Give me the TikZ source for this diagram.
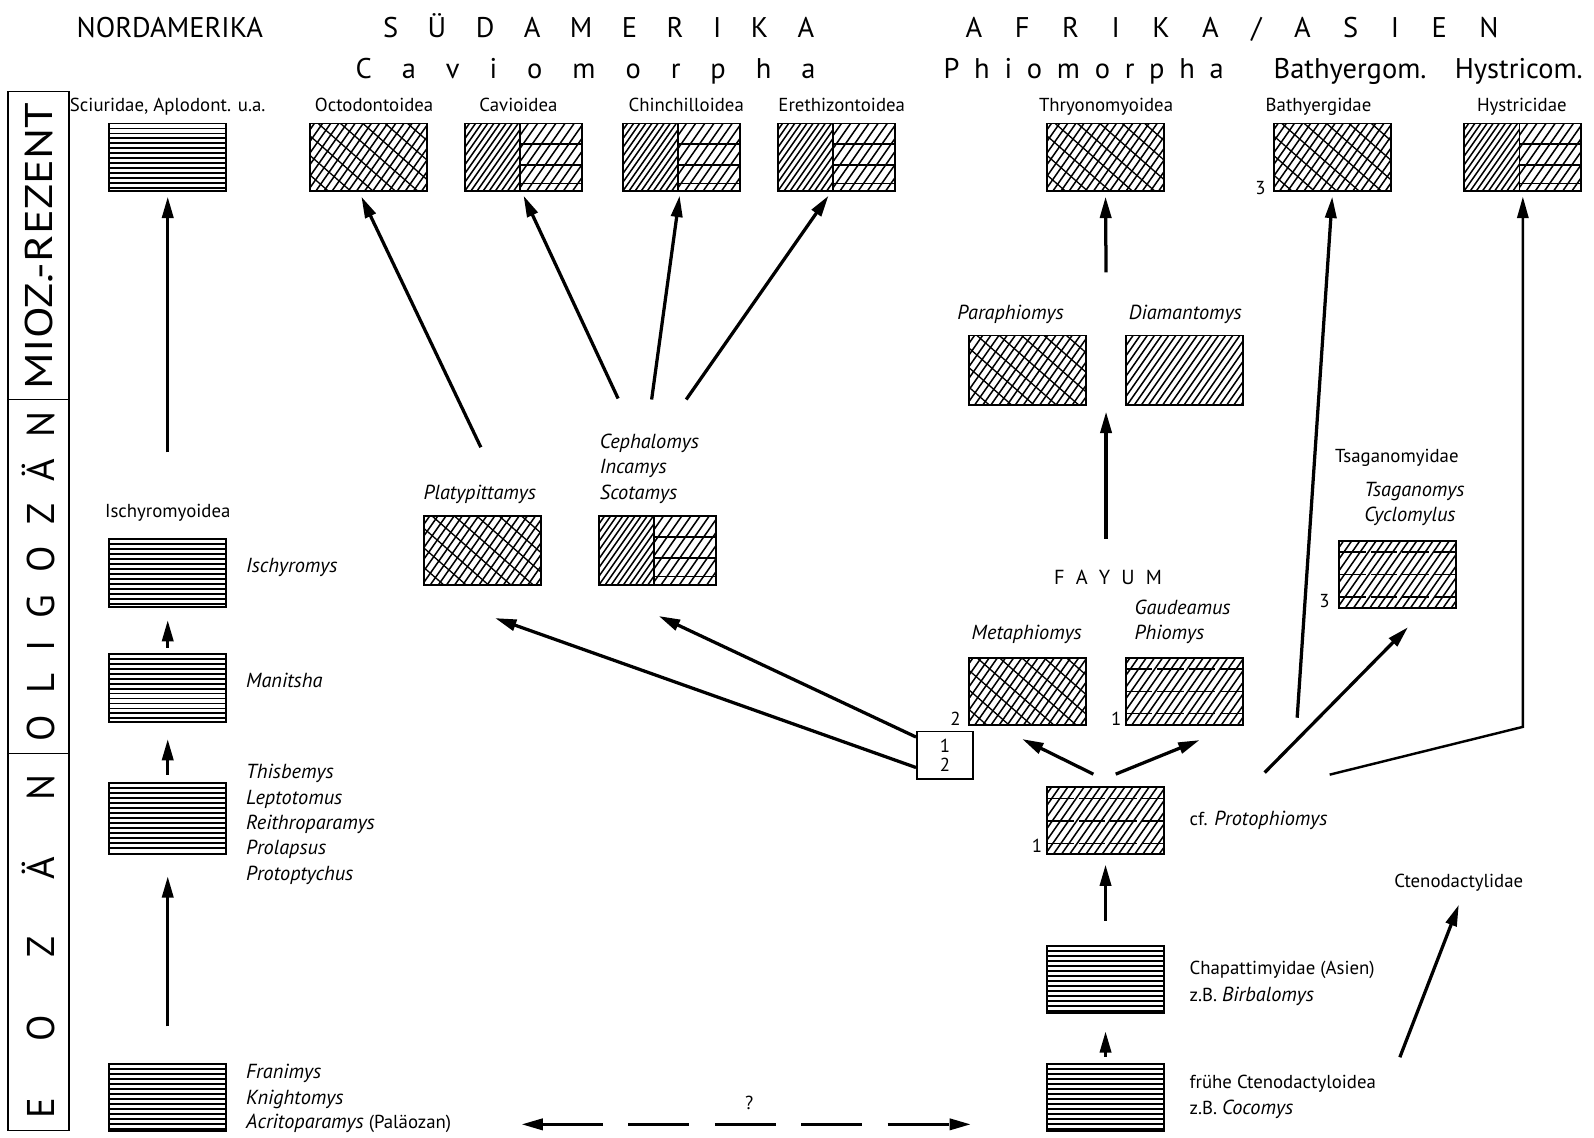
\documentclass[tikz,border=0pt]{standalone}
\usepackage{fontspec}
\setmainfont{PT Sans}
\usetikzlibrary{arrows.meta,calc}
\newcommand\lblf{\fontsize{18.5}{22}\selectfont}
\newcommand\ilblf{\fontsize{20}{22}\selectfont\itshape}
\newcommand\hdrf{\fontsize{28}{32}\selectfont}
\newcommand\barf{\fontsize{38}{40}\selectfont}
\tikzset{
  hatchln/.style={line width=1.5pt},
  boxbase/.style={draw, line width=1.9pt, minimum width=115pt, minimum height=66pt, inner sep=0pt, outer sep=0pt},
  phl/.style={boxbase, path picture={
    \foreach \k in {1,...,13} \draw[line width=1.9pt] ([yshift=-\k*4.9pt]path picture bounding box.north west) -- ++(130pt,0pt);
  }},
  pdiag/.style={boxbase, path picture={
    \foreach \d in {-90,-83,...,130} \draw[hatchln] ([xshift=\d pt]path picture bounding box.south west) -- ++(56pt,80pt);
  }},
  pcross/.style={boxbase, path picture={
    \foreach \d in {-90,-82,...,130} \draw[hatchln] ([xshift=\d pt]path picture bounding box.south west) -- ++(56pt,80pt);
    \foreach \d in {-80,-58,...,160} \draw[line width=1.3pt] ([xshift=\d pt]path picture bounding box.north west) -- ++(80pt,-70pt);
  }},
  pbrick/.style={boxbase, path picture={
    \foreach \d in {-90,-82,...,130} \draw[hatchln] ([xshift=\d pt]path picture bounding box.south west) -- ++(56pt,80pt);
    \foreach \h in {11,33,55} \draw[hatchln, dash pattern=on 26pt off 5pt] ([yshift=-\h pt]path picture bounding box.north west) -- ++(130pt,0pt);
  }},
  phalf/.style={boxbase, path picture={
    \begin{scope}
      \clip (path picture bounding box.south west) rectangle ([xshift=54pt]path picture bounding box.north west);
      \foreach \d in {-90,-84,...,60} \draw[hatchln] ([xshift=\d pt]path picture bounding box.south west) -- ++(56pt,80pt);
    \end{scope}
    \begin{scope}
      \clip ([xshift=54pt]path picture bounding box.south west) rectangle (path picture bounding box.north east);
      \foreach \d in {-20,-11,...,130} \draw[hatchln] ([xshift=\d pt]path picture bounding box.south west) -- ++(56pt,80pt);
      \foreach \h in {20,41,59} \draw[hatchln] ([yshift=-\h pt]path picture bounding box.north west) -- ++(130pt,0pt);
    \end{scope}
    \draw[line width=1.5pt] ([xshift=54pt]path picture bounding box.north west) -- ([xshift=54pt]path picture bounding box.south west);
  }},
  conn/.style={line width=3.2pt, -{Triangle[length=21pt,width=11pt]}},
  thinconn/.style={line width=2.4pt, -{Triangle[length=21pt,width=11pt]}},
  lbl/.style={font=\lblf, inner sep=0pt},
  ilbl/.style={font=\ilblf, inner sep=0pt},
  hdr/.style={font=\hdrf, inner sep=0pt},
  barlbl/.style={font=\barf, inner sep=0pt, rotate=90},
}
\begin{document}
\begin{tikzpicture}[x=1pt,y=-1pt]
\useasboundingbox (0,0) rectangle (1568,1119);

% time bar
\draw[line width=1.8pt] (8,90) rectangle (68,1112);
\draw[line width=1.4pt] (8,393) -- (68,393);
\draw[line width=1.4pt] (8,741) -- (68,741);
\node[barlbl] (tMio) at (38,242) {\scalebox{1.2}[1]{MIOZ.-REZENT}};
\node[barlbl] (tOli) at (38,567) {{\spaceskip=21.5pt O L I G O Z Ä N}};
\node[barlbl] (tEoz) at (38,931) {{\spaceskip=56pt E O Z Ä N}};

% headers
\node[hdr, anchor=base] (hNord) at (167,37) {NORDAMERIKA};
\node[hdr, anchor=base] (hSued) at (589,37) {{\spaceskip=29pt S Ü D A M E R I K A}};
\node[hdr, anchor=base] (hAfr) at (1212,37) {{\spaceskip=32pt A F R I K A / A S I E N}};
\node[hdr, anchor=base] (hCav) at (576,77) {{\spaceskip=29.5pt C a v i o m o r p h a}};
\node[hdr, anchor=base] (hPhi) at (1066,77) {{\spaceskip=14.5pt P h i o m o r p h a}};
\node[hdr, anchor=base] (hBat) at (1328,77) {Bathyergom.};
\node[hdr, anchor=base] (hHys) at (1494,77) {Hystricom.};

% top row
\node[lbl, anchor=base] (lSci) at (165,110) {Sciuridae, Aplodont. u.a.};
\node[lbl, anchor=base] (lOct) at (368,110) {Octodontoidea};
\node[lbl, anchor=base] (lCav) at (510,110) {Cavioidea};
\node[lbl, anchor=base] (lChi) at (675,110) {Chinchilloidea};
\node[lbl, anchor=base] (lEre) at (828,110) {Erethizontoidea};
\node[lbl, anchor=base] (lThr) at (1088,110) {Thryonomyoidea};
\node[lbl, anchor=base] (lBat) at (1297,110) {Bathyergidae};
\node[lbl, anchor=base] (lHys) at (1497,110) {Hystricidae};

\node[phl] (sci) at (165,154.5) {};
\node[pcross] (oct) at (362.5,154.5) {};
\node[phalf] (cav) at (515,154.5) {};
\node[phalf] (chi) at (670.5,154.5) {};
\node[phalf] (ere) at (823,154.5) {};
\node[pcross] (thr) at (1087.5,154.5) {};
\node[pcross] (bat) at (1310.5,154.5) {};
\node[phalf] (hys) at (1498,154.5) {};
\node[lbl, anchor=base] (n3a) at (1240,191) {3};

% Miocene middle
\node[ilbl, anchor=base] (lPara) at (994,314) {Paraphiomys};
\node[ilbl, anchor=base] (lDiam) at (1166,314) {Diamantomys};
\node[pcross, minimum height=68pt] (para) at (1010.5,364) {};
\node[pdiag, minimum height=68pt] (diam) at (1165.5,364) {};

% Oligocene South America
\node[ilbl, anchor=base] (lPlaty) at (472,491) {Platypittamys};
\node[ilbl, anchor=base west] (lCeph) at (590,441) {Cephalomys};
\node[ilbl, anchor=base west] (lInca) at (590,466) {Incamys};
\node[ilbl, anchor=base west] (lScot) at (590,491) {Scotamys};
\node[pcross, minimum height=67pt] (platy) at (475,541.5) {};
\node[phalf, minimum height=67pt] (ceph) at (647,541.5) {};

% Tsaganomyidae
\node[lbl, anchor=base] (lTsag) at (1374,455) {Tsaganomyidae};
\node[ilbl, anchor=base west] (lTsa1) at (1342,488) {Tsaganomys};
\node[ilbl, anchor=base west] (lTsa2) at (1342,513) {Cyclomylus};
\node[pbrick] (tsag) at (1375,565) {};
\node[lbl, anchor=base] (n3b) at (1303,598) {3};

% Fayum
\node[font=\fontsize{20}{24}\selectfont, inner sep=0pt, anchor=base] (lFay) at (1090,575) {{\spaceskip=11pt F A Y U M}};
\node[ilbl, anchor=base] (lMeta) at (1010,629) {Metaphiomys};
\node[ilbl, anchor=base west] (lGaud) at (1116,604) {Gaudeamus};
\node[ilbl, anchor=base west] (lPhio) at (1116,629) {Phiomys};
\node[pcross] (meta) at (1010.5,680) {};
\node[pbrick] (phio) at (1165,680) {};
\node[lbl, anchor=base] (n2) at (940,714) {2};
\node[lbl, anchor=base] (n1a) at (1098,714) {1};

% 1/2 box
\node[draw, line width=1.8pt, minimum width=55pt, minimum height=47pt, inner sep=0pt, font=\lblf, align=center] (b12) at (929.5,743) {1\\[-4pt]2};

% Protophiomys and below
\node[pbrick] (proto) at (1087.5,807.5) {};
\node[lbl, anchor=base] (n1b) at (1020,839) {1};
\node[lbl, anchor=base west] (lProto) at (1170,812) {cf. {\ilblf Protophiomys}};
\node[phl] (chap) at (1087.5,963.5) {};
\node[lbl, anchor=base west] (lChap1) at (1170,959) {Chapattimyidae (Asien)};
\node[lbl, anchor=base west] (lChap2) at (1170,985) {z.B. {\ilblf Birbalomys}};
\node[phl] (coco) at (1087.5,1079.5) {};
\node[lbl, anchor=base west] (lCoco1) at (1170,1071) {frühe Ctenodactyloidea};
\node[lbl, anchor=base west] (lCoco2) at (1170,1096) {z.B. {\ilblf Cocomys}};
\node[lbl, anchor=base] (lCten) at (1435,873) {Ctenodactylidae};

% left column
\node[lbl, anchor=base] (lIschG) at (165,509) {Ischyromyoidea};
\node[phl, minimum height=67pt] (isch) at (165,563.5) {};
\node[ilbl, anchor=base west] (lIsch) at (242,563) {Ischyromys};
\node[phl, minimum height=67pt] (mani) at (165,676.5) {};
\node[ilbl, anchor=base west] (lMani) at (242,676) {Manitsha};
\node[phl, minimum height=70pt] (this) at (165,805) {};
\node[ilbl, anchor=base west] (lThis1) at (242,766) {Thisbemys};
\node[ilbl, anchor=base west] (lThis2) at (242,791) {Leptotomus};
\node[ilbl, anchor=base west] (lThis3) at (242,816) {Reithroparamys};
\node[ilbl, anchor=base west] (lThis4) at (242,841) {Prolapsus};
\node[ilbl, anchor=base west] (lThis5) at (242,866) {Protoptychus};
\node[phl] (fran) at (165,1079.5) {};
\node[ilbl, anchor=base west] (lFran1) at (242,1061) {Franimys};
\node[ilbl, anchor=base west] (lFran2) at (242,1086) {Knightomys};
\node[lbl, anchor=base west] (lFran3) at (242,1110) {{\ilblf Acritoparamys} (Paläozan)};
\node[lbl, anchor=base] (lQ) at (737,1091) {?};

% free ends
\coordinate (sA) at (165,445);
\coordinate (sB) at (473,440);
\coordinate (sC) at (608,392);
\coordinate (sD) at (641,393);
\coordinate (sE) at (675,393);
\coordinate (sF) at (1088,268);
\coordinate (sG) at (1088,530);
\coordinate (eG) at (1088,405);
\coordinate (sH) at (1244,760);
\coordinate (sI) at (1276,706);
\coordinate (sJ) at (1308,762);
\coordinate (kJ) at (1498,715);
\coordinate (sK) at (1377,1040);
\coordinate (eK) at (1435,890);
\coordinate (dL) at (513,1106);
\coordinate (dR) at (955,1106);

% connectors
\draw[conn] (sA) -- ([yshift=-6pt]sci.south);
\draw[conn] ([yshift=6pt]mani.north) -- ([yshift=-13pt]isch.south);
\draw[conn] ([yshift=8pt]this.north) -- ([yshift=-17pt]mani.south);
\draw[conn] ([yshift=37pt]fran.north) -- ([yshift=-22pt]this.south);
\draw[conn] (sB) -- ([xshift=-7pt,yshift=-6pt]oct.south);
\draw[conn] (sC) -- ([yshift=-5pt]cav.south);
\draw[conn] (sD) -- ([xshift=-2pt,yshift=-5pt]chi.south);
\draw[conn] (sE) -- ([xshift=-8pt,yshift=-5pt]ere.south);
\draw[conn] (sF) -- ([yshift=-6pt]thr.south);
\draw[conn] (sG) -- (eG);
\draw[conn] ([yshift=-12pt]b12.west) -- ([xshift=12pt,yshift=-33pt]platy.south);
\draw[conn] ([yshift=18pt]b12.west) -- ([xshift=1pt,yshift=-31pt]ceph.south);
\draw[conn] ([xshift=-12pt,yshift=13pt]proto.north) -- ([xshift=-5pt,yshift=-14pt]meta.south);
\draw[conn] ([xshift=10pt,yshift=13pt]proto.north) -- ([xshift=15pt,yshift=-15pt]phio.south);
\draw[conn] (sH) -- ([xshift=10pt,yshift=-19pt]tsag.south);
\draw[conn] (sI) -- ([yshift=-6pt]bat.south);
\draw[thinconn] (sJ) -- (kJ) -- ([yshift=-6pt]hys.south);
\draw[conn] ([yshift=25pt]chap.north) -- ([yshift=-10pt]proto.south);
\draw[conn] ([yshift=7pt]coco.north) -- ([yshift=-18pt]chap.south);
\draw[conn] (sK) -- (eK);
\draw[line width=3.2pt, {Triangle[length=21pt,width=11pt]}-{Triangle[length=21pt,width=11pt]}, dash pattern=on 60pt off 25pt] (dL) -- (dR);
\end{tikzpicture}
\end{document}
